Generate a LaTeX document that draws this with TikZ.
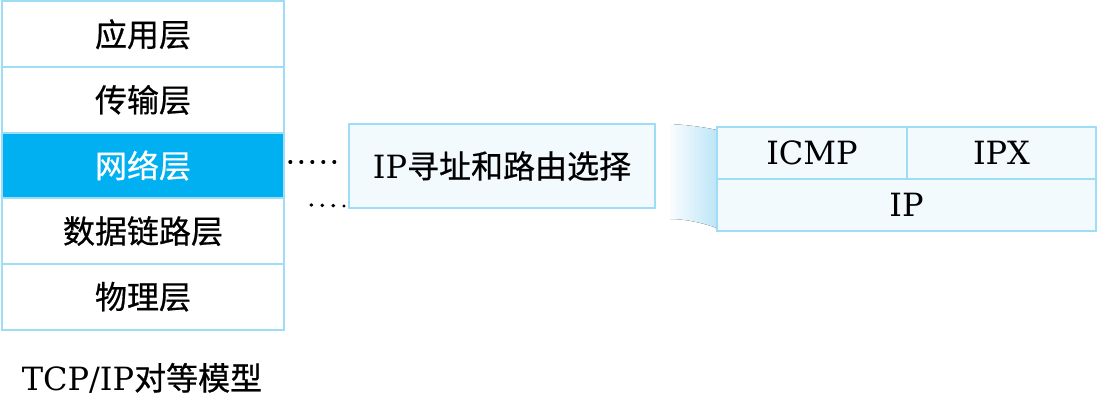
\documentclass[tikz,border=0pt]{standalone}
\usepackage{fontspec}
\setmainfont{DejaVu Serif}
\newfontfamily\cjk{Noto Sans CJK SC}[FakeBold=0.6]
\usetikzlibrary{positioning,calc}
\definecolor{layerline}{HTML}{9FDCF5}
\definecolor{layerfill}{HTML}{F2FAFE}
\definecolor{netblue}{HTML}{00B0F0}
\definecolor{fanblue}{HTML}{BCE5F7}
\tikzset{
  layer/.style = {
    rectangle, draw=layerline, line width=2pt, fill=white,
    minimum width=282pt, minimum height=65.6pt, inner sep=0pt,
    font=\fontsize{32}{36}\selectfont\cjk
  },
  netlayer/.style = {layer, fill=netblue, text=white},
  protobox/.style = {
    rectangle, draw=layerline, line width=2pt, fill=layerfill,
    minimum width=#1, minimum height=52pt, inner sep=0pt,
    font=\fontsize{32}{36}\selectfont
  },
  protobox/.default = 190pt,
  routebox/.style = {protobox=306pt, minimum height=84pt},
  dots/.style     = {line width=3.4pt, line cap=round, dash pattern=on 0.6pt off 10.4pt}
}

\begin{document}
\begin{tikzpicture}[x=1pt,y=-1pt]
\useasboundingbox (0,0) rectangle (1098,406);

% --- the five layers of the stack -----------------------------------------
\node[layer]    (app)   at (143,34.3)  {应用层};
\node[layer]    (trans) at (143,99.9)  {传输层};
\node[netlayer] (net)   at (143,165.5) {网络层};
\node[layer]    (link)  at (143,231.1) {数据链路层};
\node[layer]    (phys)  at (143,296.7) {物理层};

\node[font=\fontsize{32}{36}\selectfont] (title) at (142,378) {TCP/IP{\cjk 对等模型}};

% --- what the network layer does ------------------------------------------
\node[routebox] (route) at (502,166) {IP{\cjk 寻址和路由选择}};

\coordinate (lowdots) at (311,205);
\draw[dots] ([xshift=5pt,yshift=3.5pt]net.east) -- ([xshift=-4pt,yshift=4pt]route.west);
\draw[dots] (lowdots) -- ([xshift=-4pt,yshift=3pt]route.south west);

% --- the widening band towards the protocols ------------------------------
\fill[left color=layerfill!40!white, right color=fanblue]
  (670,124) .. controls (688,125) and (703,127) .. (717,130)
  -- (717,228) .. controls (700,222) and (684,219) .. (670,219) -- cycle;

% --- protocols of the network layer ---------------------------------------
\node[protobox]        (icmp) at (812,153)    {ICMP};
\node[protobox=189pt]  (ipx)  at (1001.5,153) {IPX};
\node[protobox=379pt]  (ip)   at (906.5,205)  {IP};

\end{tikzpicture}
\end{document}
